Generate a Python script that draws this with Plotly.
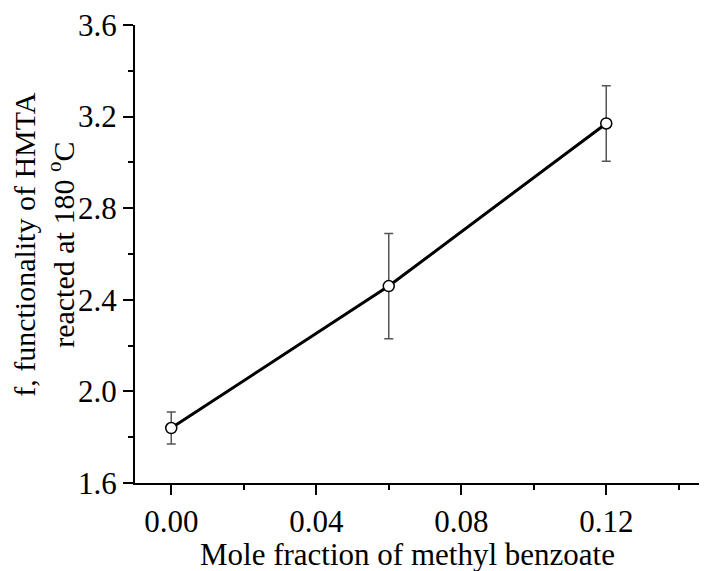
import plotly.graph_objects as go

# data
mole_fraction = [0.00, 0.06, 0.12]
functionality = [1.84, 2.46, 3.17]
error = [0.07, 0.23, 0.165]

x_ticks = [0.00, 0.04, 0.08, 0.12]
y_ticks = [1.6, 2.0, 2.4, 2.8, 3.2, 3.6]

x_title = "Mole fraction of methyl benzoate"
y_title_1 = "f, functionality of HMTA"
y_title_2 = "reacted at 180 <sup>o</sup>C"

font = "Liberation Serif"

fig = go.Figure()
fig.add_trace(go.Scatter(
    x=mole_fraction, y=functionality,
    mode="lines+markers",
    line=dict(color="black", width=3),
    marker=dict(size=11, color="white", line=dict(color="black", width=1.5)),
    error_y=dict(type="data", array=error, visible=True,
                 color="#555555", thickness=1.5, width=4.5),
    showlegend=False,
))

fig.update_layout(
    width=707, height=571,
    margin=dict(l=127, r=0, t=14, b=96),
    plot_bgcolor="white", paper_bgcolor="white",
    font=dict(family=font, size=31, color="black"),
)
axis_style = dict(
    showgrid=False, zeroline=False,
    showline=True, linecolor="black", linewidth=2,
    ticks="outside", ticklen=10, tickwidth=2, tickcolor="black",
    tickfont=dict(family=font, size=31, color="black"),
    ticklabeloverflow="allow",
)
fig.update_xaxes(
    range=[-0.01, 0.15], tickvals=x_ticks, tickformat=".2f",
    minor=dict(dtick=0.02, ticks="outside", ticklen=5, tickwidth=2, tickcolor="black"),
    **axis_style,
)
fig.update_yaxes(
    range=[1.6, 3.6], tickvals=y_ticks, tickformat=".1f",
    minor=dict(dtick=0.2, ticks="outside", ticklen=5, tickwidth=2, tickcolor="black"),
    **axis_style,
)

# axis titles as annotations so line spacing and centring can follow the reference
fig.add_annotation(text=x_title, xref="paper", yref="paper", x=0.47, y=0,
                   yshift=-71, xanchor="center", yanchor="middle",
                   showarrow=False, font=dict(family=font, size=31))
fig.add_annotation(text=y_title_1, xref="paper", yref="paper", x=0, y=0.52,
                   xshift=-110, xanchor="center", yanchor="middle", textangle=-90,
                   showarrow=False, font=dict(family=font, size=30))
fig.add_annotation(text=y_title_2, xref="paper", yref="paper", x=0, y=0.52,
                   xshift=-74, xanchor="center", yanchor="middle", textangle=-90,
                   showarrow=False, font=dict(family=font, size=30))

fig.write_html("out.html")
